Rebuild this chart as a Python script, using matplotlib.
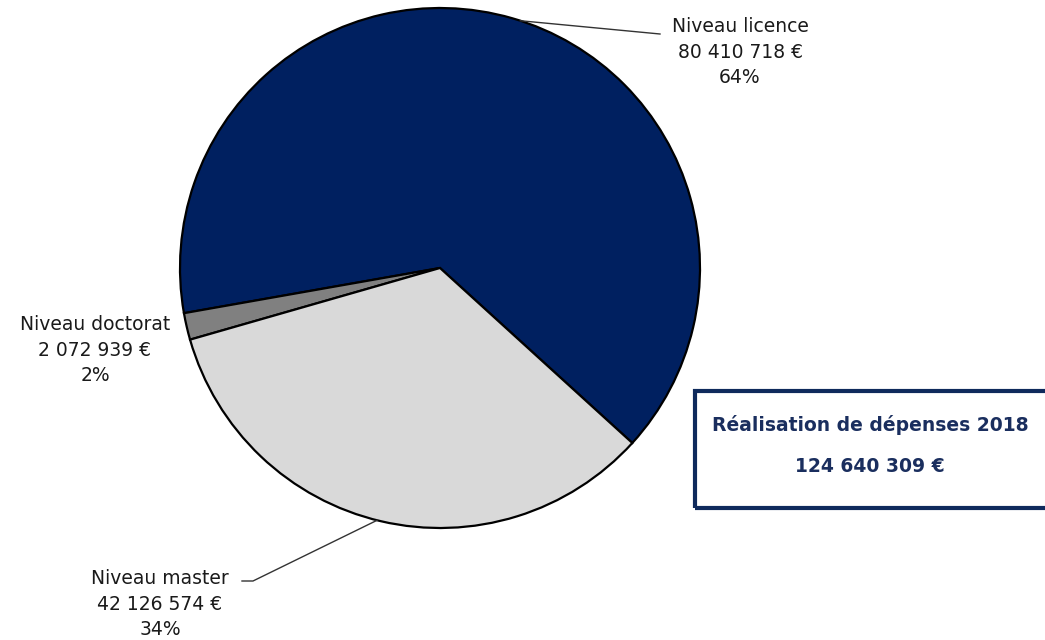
import matplotlib.pyplot as plt
import numpy as np

plt.rcParams['font.family'] = ['DejaVu Sans']

# budget par niveau
niveaux = ["Niveau licence", "Niveau doctorat", "Niveau master"]
montants = [80410718, 2072939, 42126574]
pourcents = ["64%", "2%", "34%"]
couleurs = ["#002060", "#808080", "#d9d9d9"]
total_txt = "124 640 309 €"


def fmt_euro(v):
    return "{:,}".format(v).replace(",", " ") + " €"


fig = plt.figure(figsize=(10.45, 6.4), dpi=100)
ax = fig.add_axes([0, 0, 1, 1])

cx, cy, r = 440, 372, 260
wedges, _ = ax.pie(montants, colors=couleurs, startangle=-42.3, counterclock=True,
                   center=(cx, cy), radius=r, frame=True,
                   wedgeprops=dict(edgecolor='black', linewidth=1.6))
ax.set_xlim(0, 1045)
ax.set_ylim(0, 640)
ax.set_aspect('equal')
ax.axis('off')

# position du texte, coude de la ligne de rappel, angle de départ sur le bord
labels_pos = [(740, 640 - 52, (660, 640 - 34), 72),
              (95, 640 - 350, None, None),
              (160, 640 - 604, (253, 640 - 581), 256)]

for nom, val, pct, (tx, ty, coude, ang) in zip(niveaux, montants, pourcents, labels_pos):
    ax.text(tx, ty, nom + "\n" + fmt_euro(val) + "\n" + pct, ha='center', va='center',
            fontsize=13.5, color='#1a1a1a', linespacing=1.45)
    if coude is None:
        continue
    a = np.deg2rad(ang)
    px, py = cx + r * np.cos(a), cy + r * np.sin(a)
    if nom == "Niveau master":
        ax.plot([px, coude[0], coude[0] - 11], [py, coude[1], coude[1]], color='#333333', lw=1)
    else:
        ax.plot([px, coude[0]], [py, coude[1]], color='#333333', lw=1)

# encadré du total
box = plt.Rectangle((695, 640 - 508), 360, 117, fill=False, edgecolor='#0f2a5c', lw=3)
ax.add_patch(box)
ax.text(870, 640 - 425, "Réalisation de dépenses 2018", ha='center', va='center',
        fontsize=13.5, fontweight='bold', color='#1a2e5e')
ax.text(870, 640 - 466, total_txt, ha='center', va='center',
        fontsize=13.5, fontweight='bold', color='#1a2e5e')

fig.savefig("out.png", dpi=100)
